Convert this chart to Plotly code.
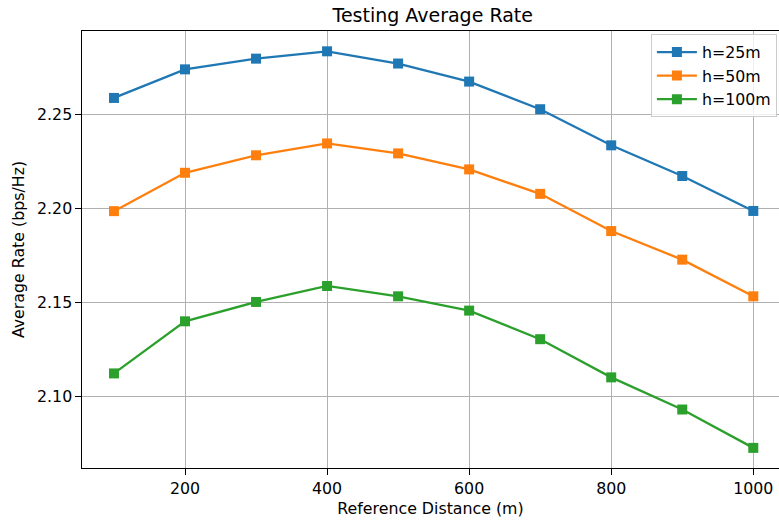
import plotly.graph_objects as go

distances = [100, 200, 300, 400, 500, 600, 700, 800, 900, 1000]
rate_h25 = [2.2590, 2.2742, 2.2799, 2.2838, 2.2773, 2.2677, 2.2530, 2.2338, 2.2175, 2.1989]
rate_h50 = [2.1988, 2.2192, 2.2285, 2.2348, 2.2295, 2.2210, 2.2080, 2.1882, 2.1730, 2.1535]
rate_h100 = [2.1125, 2.1402, 2.1505, 2.1590, 2.1535, 2.1459, 2.1307, 2.1104, 2.0933, 2.0729]
series_names = ["h=25m", "h=50m", "h=100m"]
series_colors = ["#1f77b4", "#ff7f0e", "#2ca02c"]
x_ticks = [200, 400, 600, 800, 1000]
y_ticks = [2.10, 2.15, 2.20, 2.25]

FONT = "DejaVu Sans"
FS = 15.8

fig = go.Figure()
for name, vals, col in zip(series_names, [rate_h25, rate_h50, rate_h100], series_colors):
    fig.add_trace(go.Scatter(
        x=distances, y=vals, name=name, mode="lines+markers",
        line=dict(color=col, width=2.3),
        marker=dict(symbol="square", size=10, color=col, line=dict(width=0)),
    ))

axis_common = dict(
    showgrid=True, gridcolor="#b0b0b0", gridwidth=1.2,
    showline=True, linecolor="black", linewidth=1.2, mirror=True,
    ticks="outside", ticklen=5.5, tickwidth=1.2, tickcolor="black",
    tickfont=dict(family=FONT, size=FS, color="black"),
    zeroline=False, automargin=False,
)

fig.update_layout(
    width=779, height=522,
    margin=dict(l=82, r=0, t=31, b=54, autoexpand=False),
    paper_bgcolor="white", plot_bgcolor="white",
    font=dict(family=FONT, size=FS, color="black"),
    title=dict(text="Testing Average Rate", x=0.5555, xanchor="center",
               y=1 - 15 / 522, yanchor="middle", yref="container",
               font=dict(family=FONT, size=19, color="black")),
    xaxis=dict(range=[55, 1036.2], tickvals=x_ticks,
               title=dict(text="Reference Distance (m)", standoff=6,
                          font=dict(family=FONT, size=FS, color="black")),
               **axis_common),
    yaxis=dict(range=[2.0622, 2.2946], tickvals=y_ticks, tickformat=".2f",
               title=dict(text="Average Rate (bps/Hz)", standoff=8,
                          font=dict(family=FONT, size=FS, color="black")),
               **axis_common),
    legend=dict(x=0.997, xanchor="right", y=0.9925, yanchor="top",
                bgcolor="rgba(255,255,255,0.8)", bordercolor="#cccccc", borderwidth=1,
                font=dict(family=FONT, size=FS, color="black"),
                tracegroupgap=0, itemwidth=40),
    showlegend=True,
)

fig.write_html("out.html", config={"displayModeBar": False},
               post_script="document.body.style.margin='0';")
